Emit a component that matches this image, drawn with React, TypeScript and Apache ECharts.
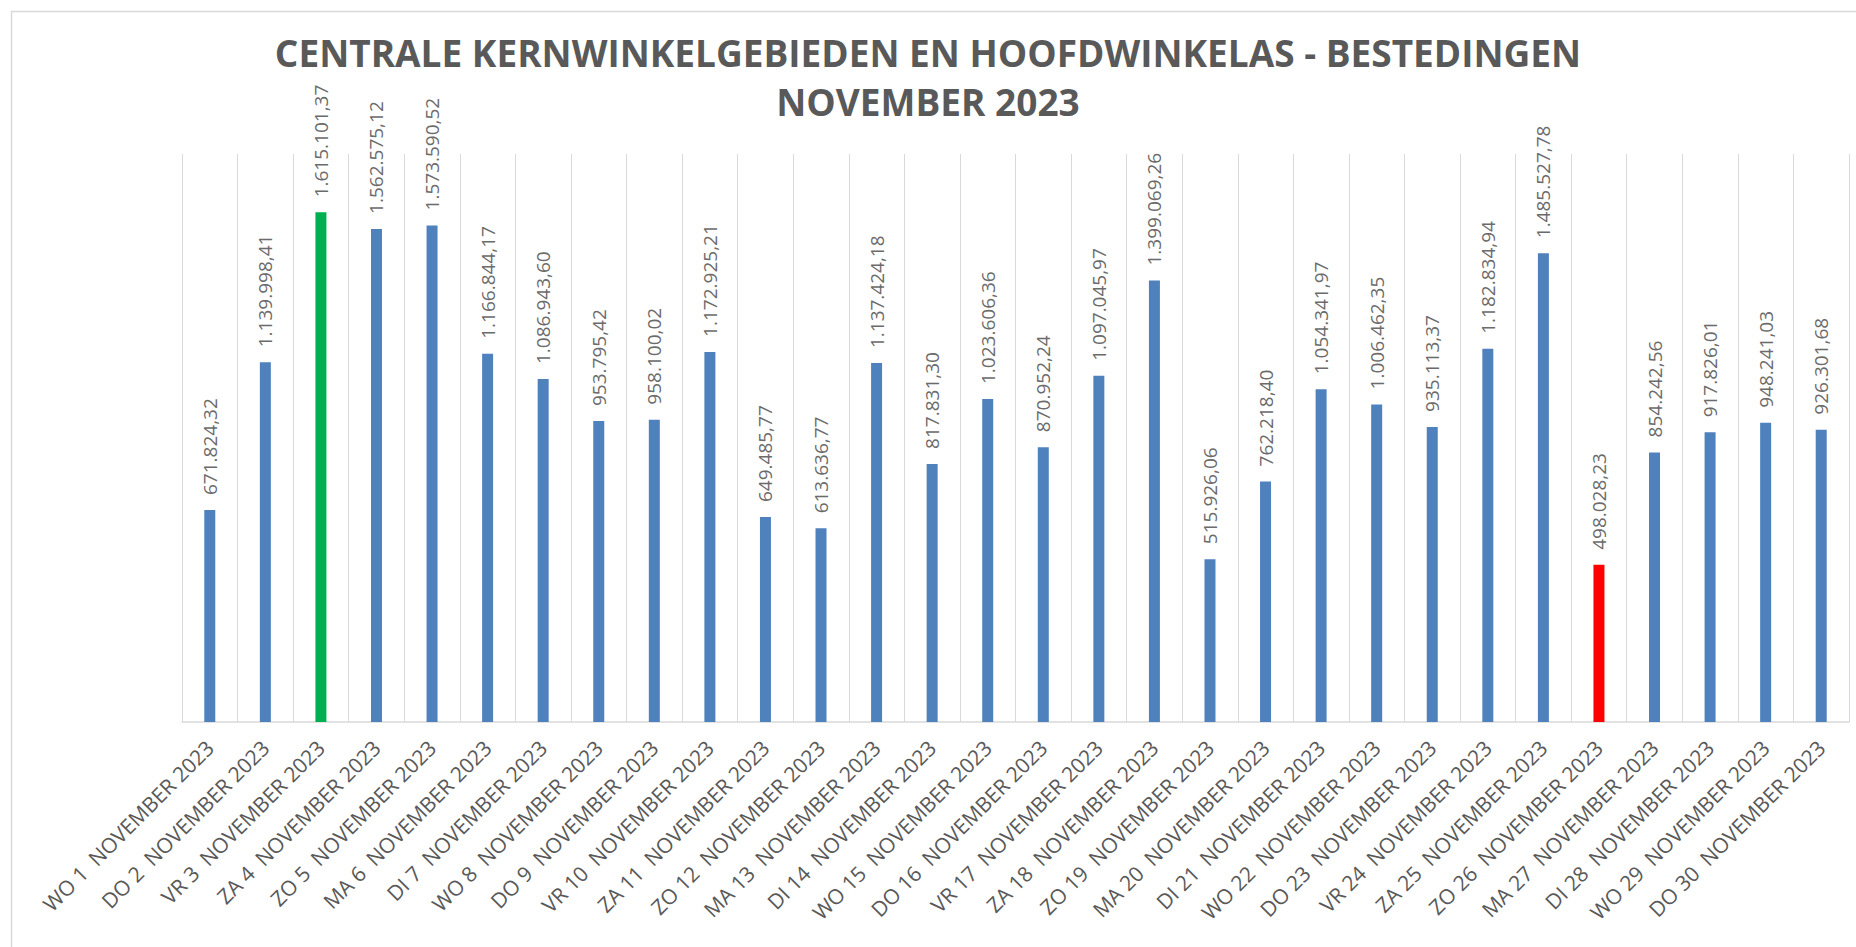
import React, { useEffect, useRef } from "react";
import * as echarts from "echarts";

const days: string[] = ["WO", "DO", "VR", "ZA", "ZO", "MA", "DI"];
const dayNumbers: number[] = [
  1, 2, 3, 4, 5, 6, 7, 8, 9, 10, 11, 12, 13, 14, 15, 16, 17, 18, 19, 20, 21, 22, 23, 24, 25, 26, 27, 28, 29, 30,
];
const monthLabel = "NOVEMBER 2023";
const categories: string[] = dayNumbers.map(
  (d, i) => `${days[i % 7]} ${d}  ${monthLabel}`
);

const bestedingen: number[] = [
  671824.32, 1139998.41, 1615101.37, 1562575.12, 1573590.52, 1166844.17, 1086943.6, 953795.42,
  958100.02, 1172925.21, 649485.77, 613636.77, 1137424.18, 817831.3, 1023606.36, 870952.24,
  1097045.97, 1399069.26, 515926.06, 762218.4, 1054341.97, 1006462.35, 935113.37, 1182834.94,
  1485527.78, 498028.23, 854242.56, 917826.01, 948241.03, 926301.68,
];

const titleLines: string[] = [
  "CENTRALE KERNWINKELGEBIEDEN EN HOOFDWINKELAS - BESTEDINGEN",
  "NOVEMBER 2023",
];

const fmtNL = (v: number): string => {
  const [intPart, dec] = v.toFixed(2).split(".");
  const withDots = intPart.replace(/\B(?=(\d{3})+(?!\d))/g, ".");
  return `${withDots},${dec}`;
};

export default function App() {
  const ref = useRef<HTMLDivElement>(null);

  useEffect(() => {
    if (!ref.current) return;
    const chart = echarts.init(ref.current, null, { renderer: "svg" });
    const maxV = Math.max(...bestedingen);
    const minV = Math.min(...bestedingen);
    chart.setOption({
      animation: false,
      backgroundColor: "#ffffff",
      title: {
        text: titleLines.join("\n"),
        left: "center",
        top: 28,
        padding: 0,
        textStyle: {
          fontFamily: "Open Sans",
          fontWeight: "bold",
          fontSize: 37,
          lineHeight: 49,
          color: "#595959",
        },
      },
      graphic: [
        {
          type: "rect",
          shape: { x: 11.5, y: 11.5, width: 1900, height: 1000 },
          style: { fill: "none", stroke: "#d9d9d9", lineWidth: 1.5 },
          silent: true,
        },
      ],
      grid: { left: 182, right: 7, top: 154, bottom: 225, containLabel: false },
      xAxis: {
        type: "category",
        data: categories,
        boundaryGap: true,
        axisLine: { show: true, lineStyle: { color: "#d9d9d9", width: 1.5 } },
        axisTick: { show: false },
        splitLine: { show: true, lineStyle: { color: "#d9d9d9", width: 1 } },
        axisLabel: {
          interval: 0,
          rotate: 45,
          margin: 22,
          fontFamily: "Open Sans",
          fontSize: 21,
          color: "#595959",
        },
      },
      yAxis: {
        type: "value",
        min: 0,
        max: 1800000,
        show: false,
        splitLine: { show: false },
      },
      series: [
        {
          type: "bar",
          data: bestedingen.map((v) => ({
            value: v,
            itemStyle: {
              color: v === maxV ? "#00b050" : v === minV ? "#ff0000" : "#4f81bd",
            },
          })),
          barWidth: 11,
          label: {
            show: true,
            position: "top",
            rotate: 90,
            align: "left",
            verticalAlign: "middle",
            distance: 15,
            fontFamily: "Open Sans",
            fontSize: 19,
            color: "#6b6b6b",
            formatter: (p: any) => fmtNL(p.value),
          },
        },
      ],
    });
    return () => chart.dispose();
  }, []);

  return (
    <div
      ref={ref}
      style={{ position: "fixed", left: 0, top: 0, width: 1856, height: 947 }}
    />
  );
}
